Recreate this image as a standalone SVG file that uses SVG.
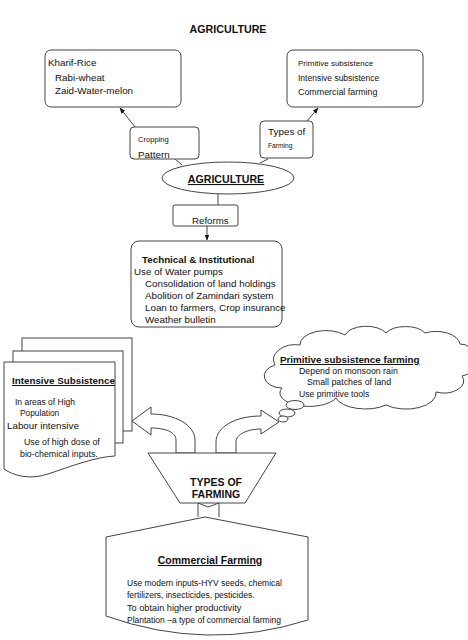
<svg xmlns="http://www.w3.org/2000/svg" width="468" height="640" viewBox="0 0 468 640">
<style>
.s{fill:#fff;stroke:#444;stroke-width:1}
.l{fill:none;stroke:#444;stroke-width:1}
text{font-family:"Liberation Sans",Arial,sans-serif;fill:#111}
.b{font-weight:bold}
.u{text-decoration:underline}
.m{text-anchor:middle}
</style>
<defs>
<marker id="ah" viewBox="0 0 10 10" refX="9" refY="5" markerWidth="6" markerHeight="6" orient="auto">
<path d="M0,1 L10,5 L0,9 Z" fill="#111"/>
</marker>
</defs>
<rect width="468" height="640" fill="#fff"/>
<text class="b m" x="228" y="33" font-size="10.7">AGRICULTURE</text>

<g id="connectors">
<line class="l" x1="135" y1="127" x2="120" y2="108" marker-end="url(#ah)"/>
<line class="l" x1="307" y1="121" x2="318" y2="108" marker-end="url(#ah)"/>
<line class="l" x1="175" y1="159" x2="182" y2="165"/>
<line class="l" x1="268" y1="159" x2="260" y2="163"/>
<line class="l" x1="218" y1="193" x2="218" y2="205"/>
<line class="l" x1="207" y1="226" x2="207" y2="240" marker-end="url(#ah)"/>
</g>

<g id="kharif">
<rect class="s" x="45" y="50" width="136" height="57" rx="6"/>
<text x="48" y="66" font-size="9.8">Kharif-Rice</text>
<text x="55" y="81" font-size="9.8">Rabi-wheat</text>
<text x="55" y="94" font-size="9.8">Zaid-Water-melon</text>
</g>

<g id="types-list">
<rect class="s" x="287" y="50" width="136" height="57" rx="6"/>
<text x="298" y="66" font-size="8">Primitive subsistence</text>
<text x="298" y="81" font-size="8.5">Intensive subsistence</text>
<text x="298" y="95" font-size="8.9">Commercial farming</text>
</g>

<g id="cropping">
<rect class="s" x="130" y="127" width="69" height="32" rx="4"/>
<text x="138" y="142" font-size="7.6">Cropping</text>
<text x="138" y="158" font-size="9.9">Pattern</text>
</g>

<g id="typesof">
<rect class="s" x="260" y="121" width="53" height="37" rx="4"/>
<text x="268" y="135" font-size="9.9">Types of</text>
<text x="268" y="148" font-size="6.7">Farming</text>
</g>

<g id="agri">
<ellipse class="s" cx="228" cy="178" rx="66" ry="16"/>
<text class="b u m" x="226" y="183" font-size="10.6">AGRICULTURE</text>
</g>

<g id="reforms">
<rect class="s" x="173" y="205" width="65" height="21" rx="2"/>
<text x="192" y="224" font-size="9.7">Reforms</text>
</g>

<g id="tech">
<rect class="s" x="131" y="241" width="151" height="86" rx="8"/>
<text class="b" x="142" y="263" font-size="9.8">Technical &amp; Institutional</text>
<text x="134" y="275" font-size="9.8">Use of Water pumps</text>
<text x="145" y="287" font-size="9.8">Consolidation of land holdings</text>
<text x="145" y="299" font-size="9.8">Abolition of Zamindari system</text>
<text x="145" y="311" font-size="9.8">Loan to farmers, Crop insurance</text>
<text x="145" y="323" font-size="9.8">Weather bulletin</text>
</g>

<g id="intensive">
<rect class="s" x="22" y="338" width="110" height="93"/>
<rect class="s" x="13" y="351" width="110" height="92"/>
<path class="s" d="M4,362 H115 V456 C95,457 72,466 48,474 C30,480 14,476 4,469 Z"/>
<text class="b u" x="12" y="384" font-size="9.8">Intensive Subsistence</text>
<text x="15" y="405" font-size="8.5">In areas of High</text>
<text x="20" y="416" font-size="8.3">Population</text>
<text x="7" y="429" font-size="9.8">Labour intensive</text>
<text x="24" y="445" font-size="8.8">Use of high dose of</text>
<text x="20" y="457" font-size="8.8">bio-chemical inputs.</text>
</g>

<g id="primitive">
<path class="s" d="M282,388 A18,12 0 0 1 275,365 A22,15 0 0 1 300,345 A26,14 0 0 1 345,335 A22,12 0 0 1 386,333 A22,12 0 0 1 425,333 A24,14 0 0 1 460,344 A14,16 0 0 1 462,376 A20,12 0 0 1 436,392 A30,16 0 0 1 386,405 A30,14 0 0 1 336,398 A26,12 0 0 1 282,388 Z"/>
<ellipse class="s" cx="295" cy="405" rx="9" ry="4.5"/>
<ellipse class="s" cx="287" cy="413" rx="8" ry="4"/>
<ellipse class="s" cx="283" cy="419" rx="5" ry="3"/>
<text class="b u" x="280" y="363" font-size="9.8">Primitive subsistence farming</text>
<text x="299" y="374" font-size="8.8">Depend on monsoon rain</text>
<text x="307" y="385" font-size="8.8">Small patches of land</text>
<text x="299" y="397" font-size="8.6">Use primitive tools</text>
</g>

<g id="arrows">
<path class="s" d="M132,421 L151,407 L151,414 C175,414 195,425 195,440 L195,453 L176,453 L176,440 C176,432 165,428 151,428 L151,435 Z"/>
<path class="s" d="M279,422 L261,410 L261,416 C235,416 216,427 216,442 L216,453 L236,453 L236,442 C236,434 248,429 261,429 L261,434 Z"/>
</g>

<g id="types-farming">
<path class="s" d="M148,453 H276 L245,503 H180 Z"/>
<text class="b m" x="216" y="486" font-size="10.5">TYPES OF</text>
<text class="b m" x="216" y="498" font-size="10.5">FARMING</text>
<path class="l" d="M198,503 V517 M219,503 V517 M198,503 L208,507 L219,503"/>
</g>

<g id="commercial">
<path class="s" d="M106,537 L205,517 L308,537 V620 Q207,652 106,616 Z"/>
<text class="b u m" x="210" y="564" font-size="10.5">Commercial Farming</text>
<text x="127" y="586" font-size="8.5">Use modern inputs-HYV seeds, chemical</text>
<text x="127" y="598" font-size="8.5">fertilizers, insecticides, pesticides.</text>
<text x="127" y="611" font-size="9.2">To obtain higher productivity</text>
<text x="127" y="623" font-size="8.5">Plantation –a type of commercial farming</text>
</g>
</svg>
